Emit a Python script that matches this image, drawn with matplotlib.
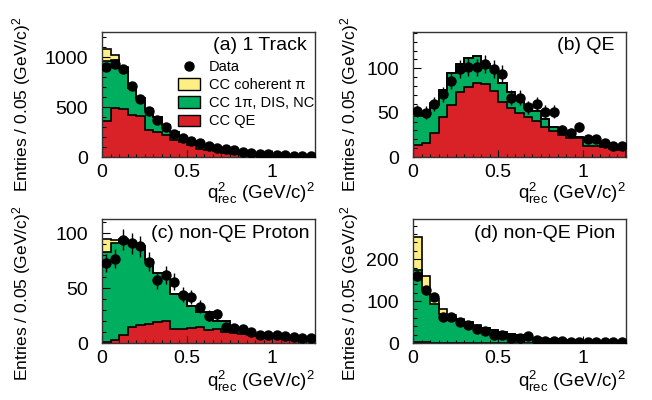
import numpy as np
import matplotlib
matplotlib.use("Agg")
import matplotlib.pyplot as plt
from matplotlib.patches import Patch
from matplotlib.lines import Line2D
from matplotlib.ticker import MultipleLocator, FuncFormatter

plt.rcParams['font.family'] = ['Liberation Sans', 'DejaVu Sans']
plt.rcParams['mathtext.fontset'] = 'custom'
plt.rcParams['mathtext.rm'] = 'Liberation Sans'
plt.rcParams['mathtext.it'] = 'Liberation Sans:italic'

YELLOW = '#FFEF82'
GREEN = '#00AE60'
RED = '#D92128'

# 25 bins of 0.05 (GeV/c)^2
edges = np.linspace(0, 1.25, 26)
centers = 0.5 * (edges[:-1] + edges[1:])

# (a) 1 Track
qe_a = [360, 493, 476, 425, 408, 272, 255, 221, 170, 153, 119, 85, 68, 58, 44, 34, 27, 24, 17, 14, 10, 7, 5, 5, 4]
other_a = [600, 477, 416, 262, 185, 203, 143, 102, 78, 51, 41, 41, 34, 27, 24, 24, 17, 10, 10, 6, 7, 7, 5, 5, 3]
coh_a = [117, 50, 8, 3, 2, 1, 0, 0, 0, 0, 0, 0, 0, 0, 0, 0, 0, 0, 0, 0, 0, 0, 0, 0, 0]
data_a = [903, 927, 880, 714, 578, 459, 374, 296, 228, 187, 160, 136, 112, 92, 78, 68, 54, 44, 34, 27, 20, 17, 14, 10, 10]

# (b) QE
qe_b = [14, 16, 27, 45, 59, 73, 79, 84, 82, 75, 62, 55, 50, 45, 41, 34, 29, 25, 21, 21, 12, 12, 11, 9, 8]
other_b = [32, 33, 32, 31, 36, 32, 33, 30, 23, 25, 22, 18, 14, 10, 11, 9, 5, 5, 6, 2, 9, 6, 3, 3, 4]
coh_b = [2, 1, 2, 0, 0, 0, 0, 0, 0, 0, 0, 0, 0, 0, 0, 0, 0, 0, 0, 0, 0, 0, 0, 0, 0]
data_b = [52, 50, 60, 71, 86, 99, 102, 101, 105, 99, 94, 67, 67, 56, 60, 51, 51, 31, 27, 34, 20, 20, 16, 12, 12]

# (c) non-QE Proton
qe_c = [1, 2.4, 7, 14.6, 16, 17.7, 19, 20, 13, 13, 14, 14.6, 11.6, 12.5, 10, 9, 8.5, 7, 6, 5, 4.6, 4, 3, 2.5, 1.8]
other_c = [82, 88.6, 87, 76.4, 72, 58.3, 45, 44, 32, 31, 20, 13.4, 16.4, 7.5, 10, 4, 3.5, 2.5, 1, 0.5, 0.9, 0.6, 1, 0.9, 1.2]
coh_c = [12, 3, 1, 0, 0, 0, 0, 0, 0, 0, 0, 0, 0, 0, 0, 0, 0, 0, 0, 0, 0, 0, 0, 0, 0]
data_c = [73, 77, 94, 91, 88, 74, 57, 62, 56, 44, 42, 33, 25, 26, 15, 14, 13, 10, 7, 7.6, 7.6, 6, 5.5, 5, 5]

# (d) non-QE Pion
qe_d = [3, 3, 1, 1, 1, 0.5, 0.5, 0.5, 0.5, 0.5, 0.3, 0.3, 0.3, 0.3, 0.3, 0.2, 0.2, 0.2, 0.2, 0.2, 0.1, 0.1, 0.1, 0.1, 0.1]
other_d = [171, 127, 93, 69, 61, 55.5, 48.5, 40.5, 35, 29.5, 25.7, 21.7, 17.7, 13.7, 11.7, 9.8, 8.8, 7.8, 6.8, 5.8, 4.9, 3.9, 3.9, 2.9, 2.9]
coh_d = [79, 30, 12, 10, 4, 2, 1, 1, 0.5, 0, 0, 0, 0, 0, 0, 0, 0, 0, 0, 0, 0, 0, 0, 0, 0]
data_d = [160, 126, 110, 62, 62, 50, 42, 34, 28, 20, 20, 13, 13, 16, 6, 5, 4, 4, 3, 3, 3, 3, 2, 2, 2]

fig = plt.figure(figsize=(6.52, 4.0), dpi=100)

W, H = 652.0, 400.0
def make_axes(x0, y0, x1, y1):
    return fig.add_axes([x0 / W, 1 - y1 / H, (x1 - x0) / W, (y1 - y0) / H])

ax_a = make_axes(102, 32, 315, 157)
ax_b = make_axes(413, 32, 626, 157)
ax_c = make_axes(102, 219, 315, 343)
ax_d = make_axes(413, 219, 626, 343)


def draw_panel(ax, qe, other, coh, data, ymax, ymaj, ymin, title, tx, ty):
    qe = np.array(qe, float)
    mid = qe + np.array(other, float)
    top = mid + np.array(coh, float)
    ax.stairs(top, edges, baseline=mid, fill=True, color=YELLOW, lw=0)
    ax.stairs(mid, edges, baseline=qe, fill=True, color=GREEN, lw=0)
    ax.stairs(qe, edges, baseline=0, fill=True, color=RED, lw=0)
    for h in (top, mid, qe):
        ax.stairs(h, edges, baseline=0, color='black', lw=1.2)
    d = np.array(data, float)
    ax.errorbar(centers, d, yerr=np.sqrt(d), fmt='o', color='black',
                ms=6.5, elinewidth=1.0, capsize=0, zorder=5)
    ax.set_xlim(0, 1.25)
    ax.set_ylim(0, ymax)
    ax.xaxis.set_major_locator(MultipleLocator(0.5))
    ax.xaxis.set_minor_locator(MultipleLocator(0.05))
    ax.yaxis.set_major_locator(MultipleLocator(ymaj))
    ax.yaxis.set_minor_locator(MultipleLocator(ymin))
    ax.xaxis.set_major_formatter(FuncFormatter(lambda v, p: f"{v:g}"))
    ax.tick_params(which='both', direction='in', top=False, right=False,
                   labelsize=14, width=0.8)
    ax.tick_params(axis='y', which='major', length=6, pad=10)
    ax.tick_params(axis='y', which='minor', length=3)
    ax.tick_params(axis='x', which='major', length=5, pad=5)
    ax.tick_params(axis='x', which='minor', length=2.5)
    for s in ax.spines.values():
        s.set_linewidth(1.0)
        s.set_color('#333333')
    ax.text(tx, ty, title, transform=ax.transAxes, ha='right', va='center',
            fontsize=14)


draw_panel(ax_a, qe_a, other_a, coh_a, data_a, 1250, 500, 100, "(a) 1 Track", 0.962, 0.896)
draw_panel(ax_b, qe_b, other_b, coh_b, data_b, 141, 50, 10, "(b) QE", 0.948, 0.896)
draw_panel(ax_c, qe_c, other_c, coh_c, data_c, 113, 50, 10, "(c) non-QE Proton", 0.976, 0.887)
draw_panel(ax_d, qe_d, other_d, coh_d, data_d, 296, 100, 20, "(d) non-QE Pion", 0.948, 0.887)

handles = [
    Line2D([], [], marker='o', ls='none', color='black', ms=6.5),
    Patch(facecolor=YELLOW, edgecolor='black', lw=1.0),
    Patch(facecolor=GREEN, edgecolor='black', lw=1.0),
    Patch(facecolor=RED, edgecolor='black', lw=1.0),
]
labels = ["Data", "CC coherent π", "CC 1π, DIS, NC", "CC QE"]
ax_a.legend(handles, labels, loc='upper left', bbox_to_anchor=(0.357, 0.776),
            frameon=False, fontsize=10.5, borderpad=0, borderaxespad=0,
            handlelength=1.5, handleheight=0.82, handletextpad=0.6,
            labelspacing=0.28)

ylab = "Entries / 0.05 (GeV/c)$^{2}$"
for x, y in [(22, 104), (22, 293), (350, 104), (350, 293)]:
    fig.text(x / W, 1 - y / H, ylab, rotation=90, ha='center', va='center', fontsize=12.5)

xlab = r"$\mathregular{q^{2}_{rec}}$ (GeV/c)$^{2}$"
for x, y in [(315, 193), (626, 193), (315, 381), (626, 381)]:
    fig.text(x / W, 1 - y / H, xlab, ha='right', va='center', fontsize=13.5)

fig.savefig("out.png", dpi=100)
